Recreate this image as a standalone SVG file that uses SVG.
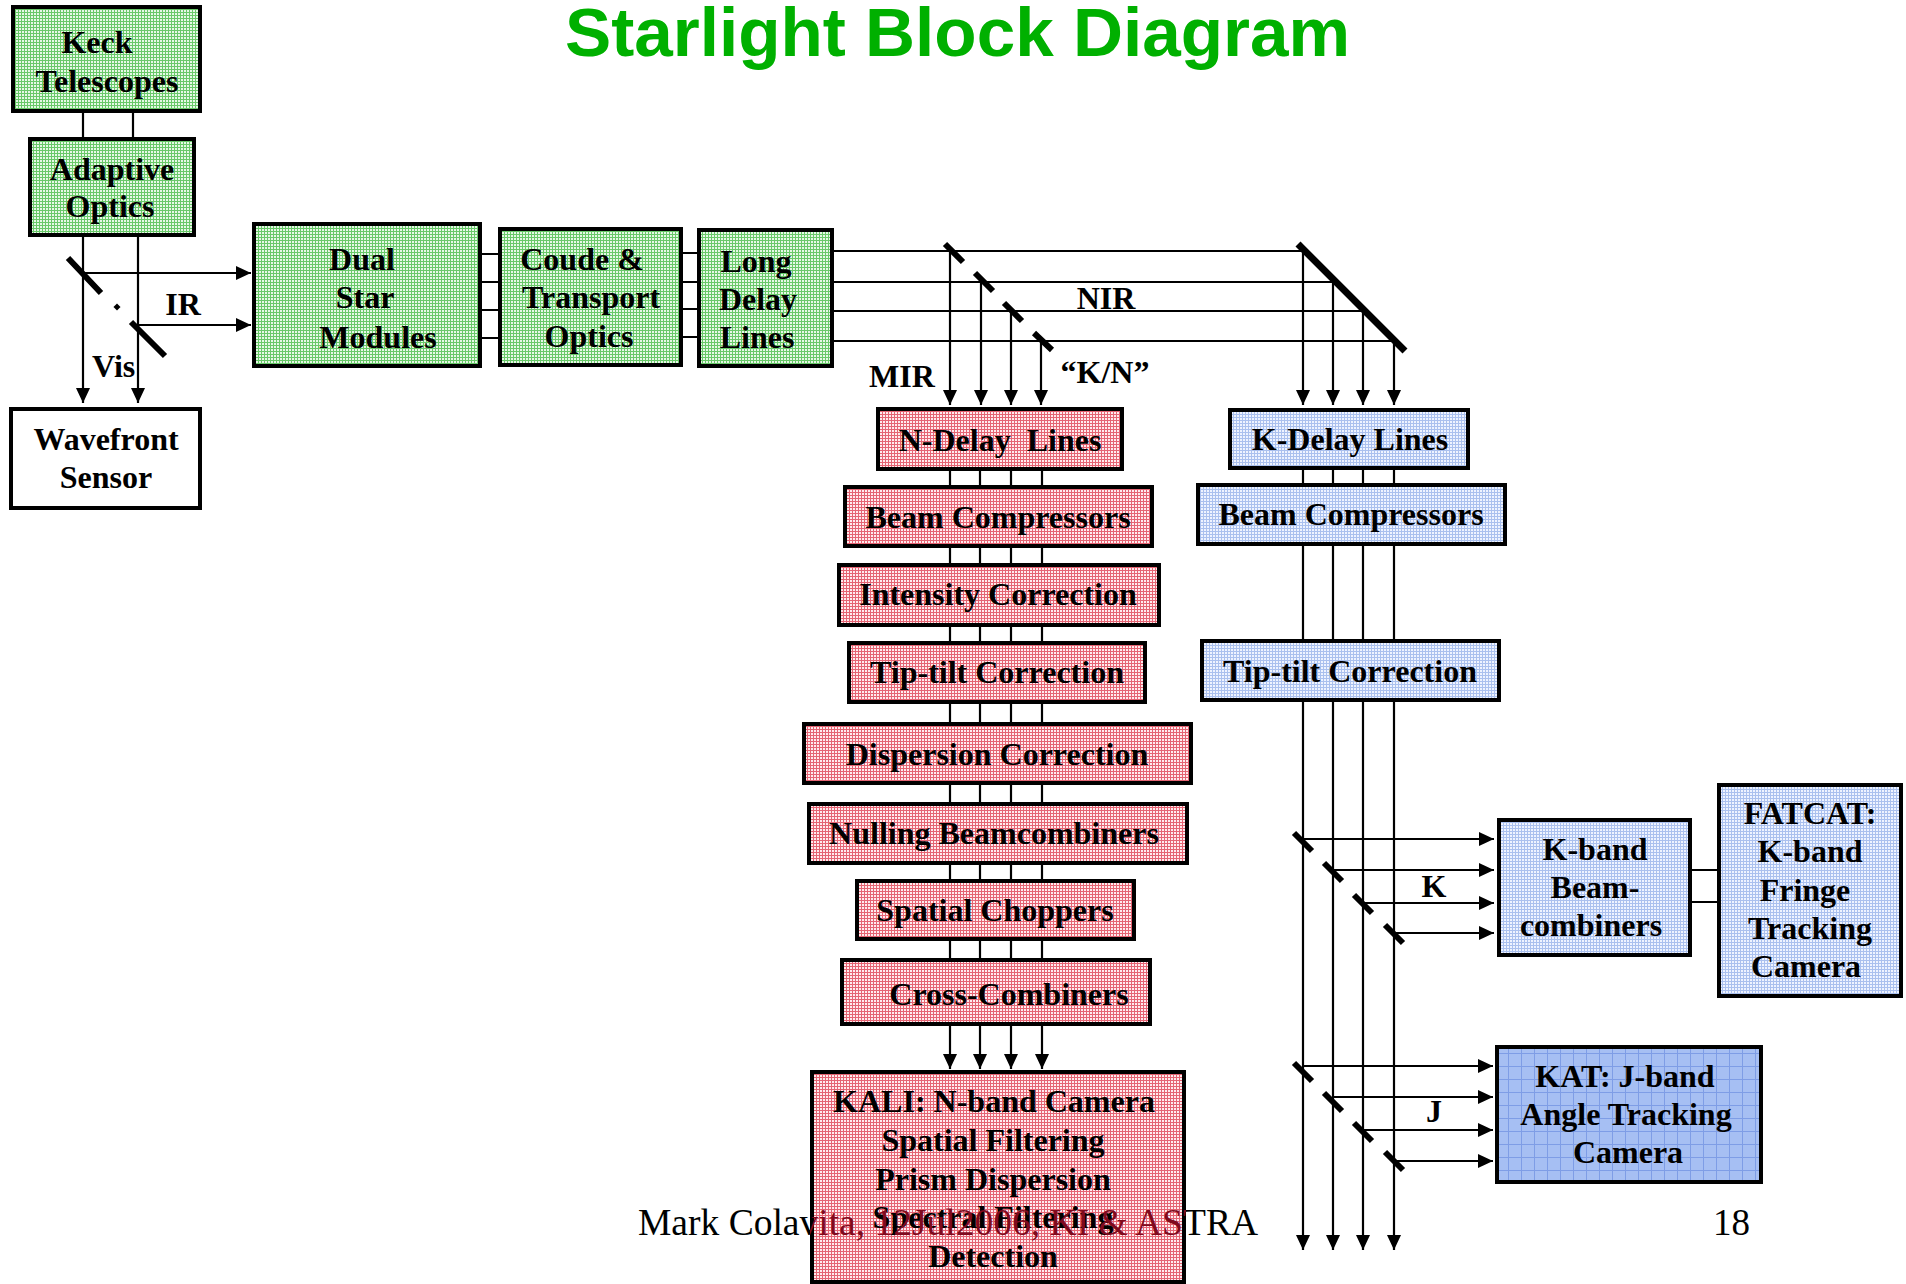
<svg xmlns="http://www.w3.org/2000/svg" width="1906" height="1284" viewBox="0 0 1906 1284">
  <style>
    .lbl{font-family:"Liberation Serif","Times New Roman",serif;font-weight:bold;font-size:32px;fill:#000;text-anchor:middle}
    .tag{font-family:"Liberation Serif","Times New Roman",serif;font-weight:bold;font-size:32px;fill:#000}
    .box{stroke:#000;stroke-width:4}
    .g{fill:url(#gridGreen)}
    .r{fill:url(#gridRed)}
    .b{fill:url(#gridBlue)}
    .k{fill:url(#gridKat)}
    .w{fill:#fff}
    .wire{stroke:#000;stroke-width:2.2;fill:none}
    .arr{marker-end:url(#ah)}
    .mir{stroke:#000;stroke-width:6;fill:none}
    .title{font-family:"Liberation Sans",Arial,sans-serif;font-weight:bold;font-size:68px;fill:#00b000}
    .foot{font-family:"Liberation Serif","Times New Roman",serif;font-size:37px}
  </style>
  <defs>
    <pattern id="gridGreen" width="3" height="3" patternUnits="userSpaceOnUse">
      <rect width="3" height="3" fill="#e6f8e6"/>
      <path d="M0 0.5H3M0.5 0V3" stroke="#69c869" stroke-width="1"/>
    </pattern>
    <pattern id="gridRed" width="3" height="3" patternUnits="userSpaceOnUse">
      <rect width="3" height="3" fill="#ffebee"/>
      <path d="M0 0.5H3M0.5 0V3" stroke="#e46473" stroke-width="1"/>
    </pattern>
    <pattern id="gridBlue" width="3" height="3" patternUnits="userSpaceOnUse">
      <rect width="3" height="3" fill="#eef3ff"/>
      <path d="M0 0.5H3M0.5 0V3" stroke="#aac0ee" stroke-width="1"/>
    </pattern>
    <pattern id="gridKat" width="13" height="13" patternUnits="userSpaceOnUse">
      <rect width="13" height="13" fill="#a6bff3"/>
      <path d="M0 0.5H13M0.5 0V13" stroke="#7e9de6" stroke-width="1"/>
    </pattern>
    <linearGradient id="footInk" gradientUnits="userSpaceOnUse" x1="0" y1="0" x2="1906" y2="0">
      <stop offset="0" stop-color="#000"/>
      <stop offset="0.425" stop-color="#000"/>
      <stop offset="0.425" stop-color="#800a1e"/>
      <stop offset="0.6222" stop-color="#800a1e"/>
      <stop offset="0.6222" stop-color="#000"/>
      <stop offset="1" stop-color="#000"/>
    </linearGradient>
    <marker id="ah" viewBox="0 0 15 14" refX="15" refY="7" markerWidth="15" markerHeight="14" markerUnits="userSpaceOnUse" orient="auto">
      <path d="M0,0L15,7L0,14z" fill="#000"/>
    </marker>
  </defs>

  <text class="title" x="565" y="56" textLength="785" lengthAdjust="spacingAndGlyphs">Starlight Block Diagram</text>

  <!-- beams, pick-off mirrors and arrows -->
  <g id="connectors">
    <!-- telescope to AO -->
    <path class="wire" d="M83 113V137M133 113V137"/>
    <!-- AO outputs: visible to wavefront sensor, IR to dual star -->
    <path class="wire arr" d="M83 237V403"/>
    <path class="wire arr" d="M138 237V403"/>
    <path class="wire arr" d="M83 273H251"/>
    <path class="wire arr" d="M138 325H251"/>
    <path class="mir" d="M68 258L101 293M131 322L165 356"/>
    <rect x="114.5" y="304.5" width="5" height="5" transform="rotate(45 117 307)" fill="#000"/>
    <!-- four beams through the transport train -->
    <path class="wire" d="M482 254H498M482 282H498M482 310H498M482 338H498"/>
    <path class="wire" d="M683 253H697M683 282H697M683 309H697M683 337H697"/>
    <path class="wire" d="M834 251H1303M834 282H1333M834 311H1363M834 341H1394"/>
    <!-- MIR dichroics down to the N side -->
    <path class="mir" d="M945 244L963 262M975 273L993 291M1004 303L1022 321M1034 333L1052 350"/>
    <path class="wire arr" d="M950 251V405"/>
    <path class="wire arr" d="M981 282V405"/>
    <path class="wire arr" d="M1011 311V405"/>
    <path class="wire arr" d="M1041 341V405"/>
    <!-- NIR fold mirror down to the K side -->
    <path d="M1298 244L1405 351" stroke="#000" stroke-width="7"/>
    <path class="wire arr" d="M1303 251V405"/>
    <path class="wire arr" d="M1333 282V405"/>
    <path class="wire arr" d="M1363 311V405"/>
    <path class="wire arr" d="M1394 341V405"/>
    <!-- N-side stack -->
    <path class="wire" d="M950 471V960M980 471V960M1011 471V960M1042 471V960"/>
    <path class="wire arr" d="M950 1026V1069"/>
    <path class="wire arr" d="M980 1026V1069"/>
    <path class="wire arr" d="M1011 1026V1069"/>
    <path class="wire arr" d="M1042 1026V1069"/>
    <!-- K-side stack -->
    <path class="wire arr" d="M1303 470V1250"/>
    <path class="wire arr" d="M1333 470V1250"/>
    <path class="wire arr" d="M1363 470V1250"/>
    <path class="wire arr" d="M1394 470V1250"/>
    <!-- K pick-offs -->
    <path class="mir" d="M1294 833L1312 851M1324 863L1342 881M1354 895L1372 913M1385 925L1403 943"/>
    <path class="wire arr" d="M1303 839H1494"/>
    <path class="wire arr" d="M1333 870H1494"/>
    <path class="wire arr" d="M1363 903H1494"/>
    <path class="wire arr" d="M1394 933H1494"/>
    <!-- J pick-offs -->
    <path class="mir" d="M1294 1063L1312 1081M1324 1093L1342 1111M1354 1123L1372 1141M1385 1152L1403 1170"/>
    <path class="wire arr" d="M1303 1066H1493"/>
    <path class="wire arr" d="M1333 1097H1493"/>
    <path class="wire arr" d="M1363 1130H1493"/>
    <path class="wire arr" d="M1394 1161H1493"/>
    <!-- K-band combiner to fringe tracker -->
    <path class="wire" d="M1692 870H1717M1692 902H1717"/>
  </g>

  <!-- beam labels -->
  <g id="beam-labels">
    <text class="lbl" x="183" y="315">IR</text>
    <text class="tag" x="92" y="377">Vis</text>
    <text class="lbl" x="1106" y="309">NIR</text>
    <text class="lbl" x="902" y="387">MIR</text>
    <text class="lbl" x="1105" y="383">“K/N”</text>
    <text class="lbl" x="1434" y="897">K</text>
    <text class="lbl" x="1434" y="1122">J</text>
  </g>

  <g id="keck">
    <rect class="box g" x="13" y="7" width="187" height="104"/>
    <text class="lbl" x="97" y="53">Keck</text>
    <text class="lbl" x="107" y="92">Telescopes</text>
  </g>
  <g id="adaptive-optics">
    <rect class="box g" x="30" y="139" width="164" height="96"/>
    <text class="lbl" x="112" y="180">Adaptive</text>
    <text class="lbl" x="110" y="217">Optics</text>
  </g>
  <g id="wavefront-sensor">
    <rect class="box w" x="11" y="409" width="189" height="99"/>
    <text class="lbl" x="106" y="450">Wavefront</text>
    <text class="lbl" x="106" y="488">Sensor</text>
  </g>
  <g id="dual-star">
    <rect class="box g" x="254" y="224" width="226" height="142"/>
    <text class="lbl" x="362" y="270">Dual</text>
    <text class="lbl" x="365" y="308">Star</text>
    <text class="lbl" x="378" y="348">Modules</text>
  </g>
  <g id="coude">
    <rect class="box g" x="500" y="229" width="181" height="136"/>
    <text class="lbl" x="582" y="270">Coude &amp;</text>
    <text class="lbl" x="591" y="308">Transport</text>
    <text class="lbl" x="589" y="347">Optics</text>
  </g>
  <g id="long-delay">
    <rect class="box g" x="699" y="230" width="133" height="136"/>
    <text class="lbl" x="756" y="272">Long</text>
    <text class="lbl" x="758" y="310">Delay</text>
    <text class="lbl" x="757" y="348">Lines</text>
  </g>

  <g id="n-delay">
    <rect class="box r" x="878" y="409" width="244" height="60"/>
    <text class="lbl" x="1000" y="451" xml:space="preserve">N-Delay  Lines</text>
  </g>
  <g id="n-beam-compressors">
    <rect class="box r" x="845" y="487" width="307" height="59"/>
    <text class="lbl" x="998" y="528">Beam Compressors</text>
  </g>
  <g id="intensity">
    <rect class="box r" x="839" y="565" width="320" height="60"/>
    <text class="lbl" x="998" y="605">Intensity Correction</text>
  </g>
  <g id="n-tip-tilt">
    <rect class="box r" x="849" y="643" width="296" height="59"/>
    <text class="lbl" x="997" y="683">Tip-tilt Correction</text>
  </g>
  <g id="dispersion">
    <rect class="box r" x="804" y="724" width="387" height="59"/>
    <text class="lbl" x="997" y="765">Dispersion Correction</text>
  </g>
  <g id="nulling">
    <rect class="box r" x="809" y="804" width="378" height="59"/>
    <text class="lbl" x="994" y="844">Nulling Beamcombiners</text>
  </g>
  <g id="choppers">
    <rect class="box r" x="857" y="881" width="277" height="58"/>
    <text class="lbl" x="995" y="921">Spatial Choppers</text>
  </g>
  <g id="cross-combiners">
    <rect class="box r" x="842" y="960" width="308" height="64"/>
    <text class="lbl" x="1009" y="1005">Cross-Combiners</text>
  </g>
  <g id="kali">
    <rect class="box r" x="812" y="1072" width="372" height="210"/>
    <text class="lbl" x="994" y="1112">KALI: N-band Camera</text>
    <text class="lbl" x="993" y="1151">Spatial Filtering</text>
    <text class="lbl" x="993" y="1190">Prism Dispersion</text>
    <text class="lbl" x="993" y="1228">Spectral Filtering</text>
    <text class="lbl" x="993" y="1267">Detection</text>
  </g>

  <g id="k-delay">
    <rect class="box b" x="1230" y="410" width="238" height="58"/>
    <text class="lbl" x="1350" y="450">K-Delay Lines</text>
  </g>
  <g id="k-beam-compressors">
    <rect class="box b" x="1198" y="485" width="307" height="59"/>
    <text class="lbl" x="1351" y="525">Beam Compressors</text>
  </g>
  <g id="k-tip-tilt">
    <rect class="box b" x="1202" y="641" width="297" height="59"/>
    <text class="lbl" x="1350" y="682">Tip-tilt Correction</text>
  </g>
  <g id="k-band-combiners">
    <rect class="box b" x="1499" y="820" width="191" height="135"/>
    <text class="lbl" x="1595" y="860">K-band</text>
    <text class="lbl" x="1595" y="898">Beam-</text>
    <text class="lbl" x="1591" y="936">combiners</text>
  </g>
  <g id="fatcat">
    <rect class="box b" x="1719" y="785" width="182" height="211"/>
    <text class="lbl" x="1810" y="824">FATCAT:</text>
    <text class="lbl" x="1810" y="862">K-band</text>
    <text class="lbl" x="1805" y="901">Fringe</text>
    <text class="lbl" x="1810" y="939">Tracking</text>
    <text class="lbl" x="1806" y="977">Camera</text>
  </g>
  <g id="kat">
    <rect class="box k" x="1497" y="1047" width="264" height="135"/>
    <text class="lbl" x="1625" y="1087">KAT: J-band</text>
    <text class="lbl" x="1626" y="1125">Angle Tracking</text>
    <text class="lbl" x="1628" y="1163">Camera</text>
  </g>

  <!-- slide footer -->
  <text class="foot" x="638" y="1235" fill="url(#footInk)" textLength="620" lengthAdjust="spacingAndGlyphs">Mark Colavita, 12Jul2006, KI &amp; ASTRA</text>
  <text class="foot" x="1713" y="1235">18</text>
</svg>
